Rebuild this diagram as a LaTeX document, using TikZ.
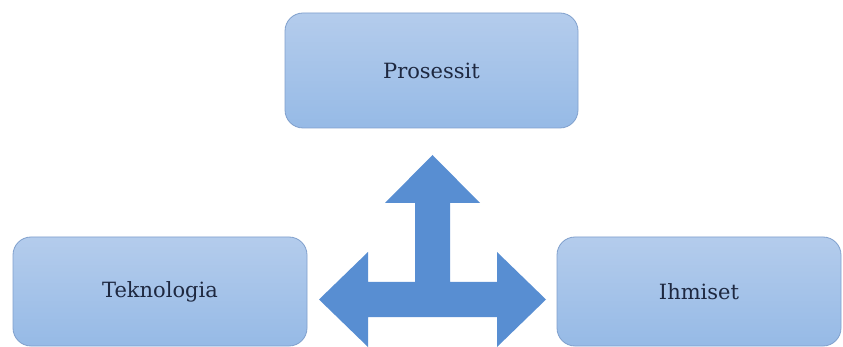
\documentclass[tikz,border=0pt]{standalone}
\usepackage{fontspec}
\setmainfont{DejaVu Serif}
\definecolor{boxtop}{RGB}{180,204,236}
\definecolor{boxbot}{RGB}{150,186,230}
\definecolor{boxline}{RGB}{128,160,205}
\definecolor{arrowblue}{RGB}{88,142,210}
\definecolor{txt}{RGB}{30,40,64}
\tikzset{
  boxnode/.style={rectangle, rounded corners=18pt, draw=boxline, line width=0.8pt,
    top color=boxtop, bottom color=boxbot, inner sep=0pt,
    font=\fontsize{21}{24}\selectfont, text=txt},
  bigarrow/.style={fill=arrowblue, draw=none}
}
\begin{document}
\begin{tikzpicture}[x=1pt,y=-1pt]
\useasboundingbox (0,0) rectangle (843,347);
\clip (0,0) rectangle (843,347);
\fill[white] (0,0) rectangle (843,347);
\node[boxnode, minimum width=293pt, minimum height=115pt] (proc) at (431.5,70.5) {Prosessit};
\node[boxnode, minimum width=294pt, minimum height=109pt] (tek) at (160,291.5) {\raisebox{-4pt}{Teknologia}};
\node[boxnode, minimum width=284pt, minimum height=109pt] (ihm) at (699,291.5) {\raisebox{-2pt}{Ihmiset}};
\coordinate (tipU) at (432.5,155);
\coordinate (tipL) at (319,299.5);
\coordinate (tipR) at (546,299.5);
\fill[bigarrow] (tipU) -- (480,203) -- (450,203) -- (450,282) -- (497,282) -- (497,252)
  -- (tipR) -- (497,347) -- (497,317) -- (368,317) -- (368,347) -- (tipL)
  -- (368,252) -- (368,282) -- (415,282) -- (415,203) -- (385,203) -- cycle;
\end{tikzpicture}
\end{document}
